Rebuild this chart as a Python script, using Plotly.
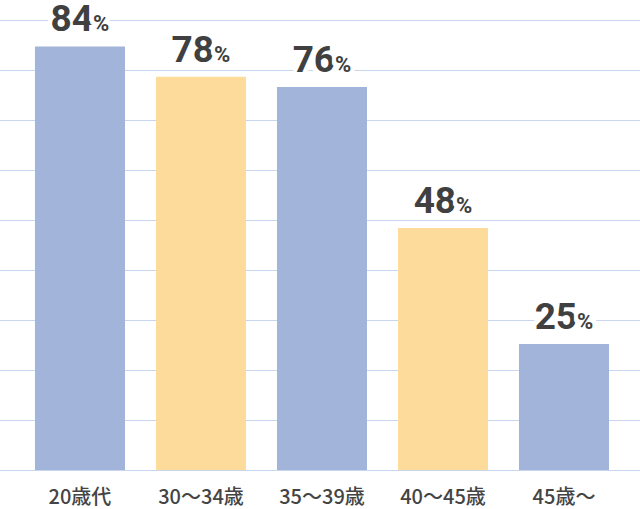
import plotly.graph_objects as go

categories = ["20歳代", "30〜34歳", "35〜39歳", "40〜45歳", "45歳〜"]
values = [84, 78, 76, 48, 25]
colors = ["#A3B4DB", "#FCDB9B", "#A3B4DB", "#FCDB9B", "#A3B4DB"]

halo = ", ".join(f"{dx}px {dy}px 0 white" for dx in (-4, -2, 0, 2, 4) for dy in (-3, 0, 3))

fig = go.Figure()
fig.add_trace(go.Bar(
    x=categories, y=values,
    marker=dict(color=colors, line=dict(width=0)),
    width=0.744,
    hoverinfo="skip",
))
fig.add_trace(go.Scatter(
    x=categories, y=values,
    mode="markers+text",
    marker=dict(size=8, opacity=0),
    text=[f"{v}<span style='font-size:22px'>%</span>" for v in values],
    textposition="top center",
    cliponaxis=False,
    textfont=dict(family="Roboto", size=37, color="#404040", weight=700, shadow=halo),
    hoverinfo="skip",
))

fig.update_layout(
    width=640, height=509,
    margin=dict(l=0, r=0, t=0, b=39),
    plot_bgcolor="white", paper_bgcolor="white",
    showlegend=False,
    bargap=0.256,
)
fig.update_xaxes(
    type="category", range=[-0.661, 4.628],
    showgrid=False, showline=False, zeroline=False,
    ticks="", tickfont=dict(family="Noto Sans CJK JP", size=20, color="#444444", weight=500),
    ticklabelstandoff=13,
)
fig.update_yaxes(
    range=[0, 93.25], tick0=0, dtick=9.92,
    showgrid=True, gridcolor="#C8D5EF", gridwidth=1,
    zeroline=True, zerolinecolor="#C8D5EF", zerolinewidth=1,
    showticklabels=False, ticks="",
)

fig.write_html("out.html", config={"displayModeBar": False},
               post_script="document.body.style.margin='0';document.body.style.overflow='hidden';")
